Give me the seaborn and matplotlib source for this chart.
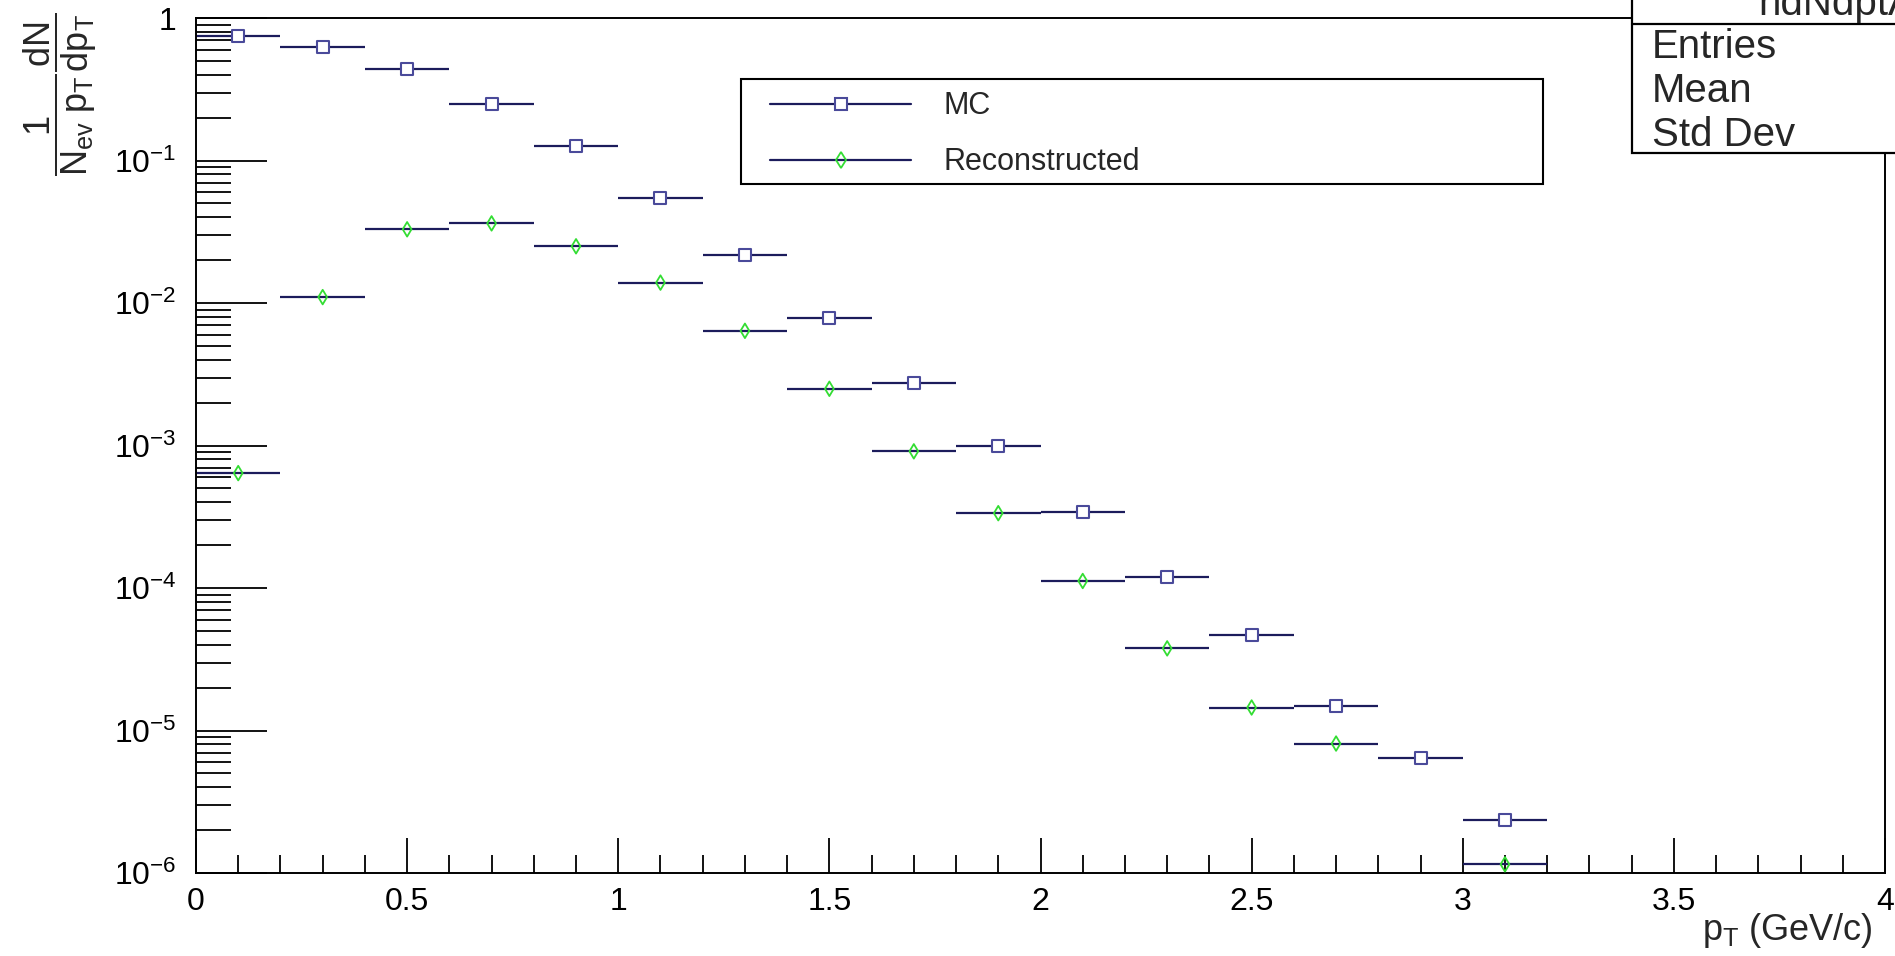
import matplotlib
matplotlib.use("Agg")
import matplotlib.pyplot as plt
import matplotlib.ticker as mticker
from matplotlib.lines import Line2D
from matplotlib.patches import Rectangle
import seaborn as sns
import numpy as np
import pandas as pd

# bin centres (GeV/c), bin half-width 0.1
pt_centers = [0.1, 0.3, 0.5, 0.7, 0.9, 1.1, 1.3, 1.5, 1.7, 1.9, 2.1, 2.3, 2.5, 2.7, 2.9, 3.1]
mc_values = [0.75, 0.63, 0.44, 0.25, 0.126, 0.0546, 0.0218, 0.0079, 0.00276, 0.001,
             3.42e-4, 1.19e-4, 4.67e-5, 1.48e-5, 6.4e-6, 2.36e-6]
reco_values = [6.4e-4, 0.011, 0.0329, 0.0362, 0.025, 0.0139, 0.00638, 0.0025, 9.1e-4, 3.35e-4,
               1.12e-4, 3.77e-5, 1.45e-5, 8.1e-6, np.nan, 1.15e-6]
half_width = 0.1
stat_labels = ["Entries", "Mean", "Std Dev"]

df = pd.DataFrame({"pt": pt_centers, "mc": mc_values, "reco": reco_values})

sns.set_theme(style="white")
plt.rcParams["font.family"] = ["Liberation Sans", "DejaVu Sans"]
plt.rcParams["mathtext.fontset"] = "custom"
plt.rcParams["mathtext.rm"] = "Liberation Sans"
plt.rcParams["mathtext.it"] = "Liberation Sans"
plt.rcParams["mathtext.bf"] = "Liberation Sans:bold"

W, H = 1895, 956
fig = plt.figure(figsize=(W / 100, H / 100), dpi=100)
ax = fig.add_axes([196 / W, 1 - 873 / H, (1885 - 196) / W, (873 - 18) / H])

bar_col = "#1c1c5c"
mc_col = "#4a4a9a"
reco_col = "#33dd33"

# horizontal bin-width bars
ax.errorbar(df["pt"], df["mc"], xerr=half_width, fmt="none", ecolor=bar_col, elinewidth=1.6, capsize=0)
ax.errorbar(df["pt"], df["reco"], xerr=half_width, fmt="none", ecolor=bar_col, elinewidth=1.6, capsize=0)

sns.scatterplot(data=df, x="pt", y="mc", marker="s", s=75, color="white",
                edgecolor=mc_col, linewidth=1.5, zorder=5, ax=ax)
sns.scatterplot(data=df.dropna(), x="pt", y="reco", marker="d", s=55, color="white",
                edgecolor=reco_col, linewidth=1.3, zorder=5, ax=ax)
ax.collections[-1].set_facecolor("none")

ax.set_yscale("log")
ax.set_xlim(0, 4)
ax.set_ylim(1e-6, 1.0)
ax.set_xlabel("")
ax.set_ylabel("")

ax.xaxis.set_major_locator(mticker.MultipleLocator(0.5))
ax.xaxis.set_minor_locator(mticker.MultipleLocator(0.1))
ax.xaxis.set_major_formatter(mticker.FuncFormatter(lambda v, p: f"{v:g}"))
ax.yaxis.set_major_locator(mticker.LogLocator(base=10, numticks=10))
ax.yaxis.set_minor_locator(mticker.LogLocator(base=10, subs=np.arange(2, 10), numticks=20))
ax.yaxis.set_minor_formatter(mticker.NullFormatter())
ax.yaxis.set_major_formatter(mticker.FuncFormatter(
    lambda v, p: "1" if abs(v - 1) < 1e-9 else r"$10^{%d}$" % round(np.log10(v))))

ax.tick_params(axis="both", which="both", direction="in", colors="black", labelsize=23,
               bottom=True, left=True, top=False, right=False)
ax.tick_params(axis="x", which="major", length=25, width=1.3, pad=10)
ax.tick_params(axis="x", which="minor", length=13, width=1.3)
ax.tick_params(axis="y", which="major", length=51, width=1.3, pad=14)
ax.tick_params(axis="y", which="minor", length=25, width=1.3)
for s in ax.spines.values():
    s.set_color("black")
    s.set_linewidth(1.4)

# axis titles placed like ROOT does
fig.text(1873 / W, 1 - 930 / H, r"$p_{T}$ (GeV/c)", ha="right", va="center", fontsize=26)
fig.text(60 / W, 1 - 12 / H, r"$\dfrac{1}{N_{ev}\ p_{T}}\dfrac{dN}{dp_{T}}$",
         rotation=90, ha="center", va="top", fontsize=26)

# legend
handles = [
    Line2D([], [], color=bar_col, lw=1.6, marker="s", ms=8, mfc="white", mec=mc_col, mew=1.5),
    Line2D([], [], color=bar_col, lw=1.6, marker="d", ms=8, mfc="none", mec=reco_col, mew=1.3),
]
fig.add_artist(Rectangle((741 / W, 1 - 184 / H), (1543 - 741) / W, (184 - 79) / H,
                         transform=fig.transFigure, fc="white", ec="black", lw=1.5, zorder=8))
leg = fig.legend(handles, ["MC", "Reconstructed"], loc="upper left",
                 bbox_to_anchor=(746 / W, 1 - 67 / H), bbox_transform=fig.transFigure,
                 frameon=False, fontsize=22, handlelength=4.6, handletextpad=1.05,
                 labelspacing=0.85, borderpad=0.3)
leg.set_zorder(9)

# stats box (partly outside the canvas)
fig.add_artist(Rectangle((1632 / W, 1 - 153 / H), 400 / W, 200 / H,
                         transform=fig.transFigure, fc="white", ec="black", lw=1.6, zorder=10))
fig.add_artist(Line2D([1632 / W, 1.0], [1 - 24 / H, 1 - 24 / H],
                      transform=fig.transFigure, color="black", lw=1.6, zorder=11))
fig.text(1758 / W, 1 - 15 / H, "hdNdptA", ha="left", va="baseline", fontsize=29, zorder=12)
for i, lab in enumerate(stat_labels):
    fig.text(1652 / W, 1 - (47 + 44 * i) / H, lab, ha="left", va="center", fontsize=29, zorder=12)

fig.savefig("out.png", dpi=100, facecolor="white")
